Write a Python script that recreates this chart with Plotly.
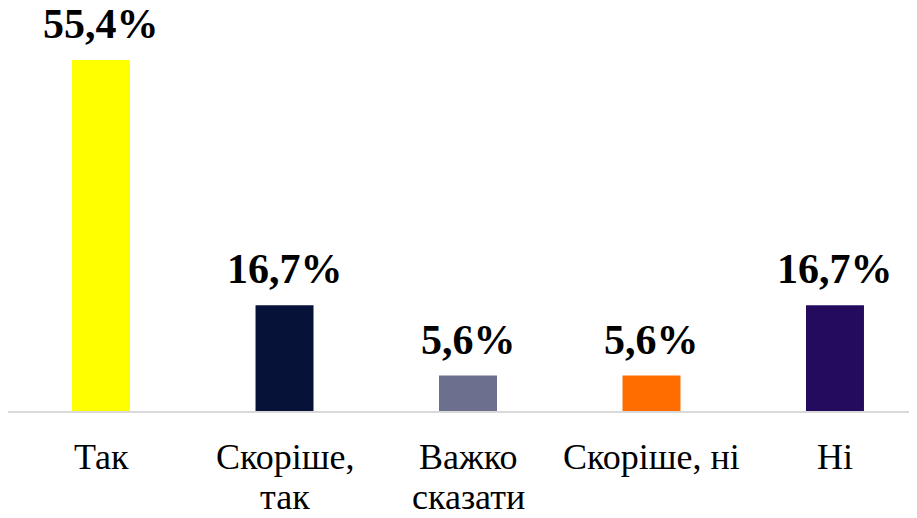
import plotly.graph_objects as go

categories = ["Так", "Скоріше,<br>так", "Важко<br>сказати", "Скоріше, ні", "Ні"]
values = [55.4, 16.7, 5.6, 5.6, 16.7]
labels = ["55,4%", "16,7%", "5,6%", "5,6%", "16,7%"]
colors = ["#ffff00", "#061237", "#6d6f8e", "#ff6d00", "#240b5e"]

x = list(range(len(categories)))
serif = "Liberation Serif"

fig = go.Figure(go.Bar(
    x=x, y=values, width=0.316,
    marker=dict(color=colors, line=dict(width=0)),
))

# value labels sit a bit higher above the bars than plotly's outside text
for xi, v, t in zip(x, values, labels):
    fig.add_annotation(x=xi, y=v, text=t, showarrow=False, yanchor="bottom", yshift=11,
                       font=dict(family=serif, size=42, color="black", weight="bold"))

# category names drawn as annotations so the two lines can sit tighter
for xi, c in zip(x, categories):
    for k, line in enumerate(c.split("<br>")):
        fig.add_annotation(x=xi, y=0, text=line, showarrow=False, yanchor="top",
                           yshift=-24 - 40 * k,
                           font=dict(family=serif, size=36, color="black"))

# page has an 8px body margin, so the figure is a bit smaller than the window
fig.update_layout(
    width=909, height=510,
    margin=dict(l=0, r=0, t=0, b=107, autoexpand=False),
    plot_bgcolor="white", paper_bgcolor="white",
    showlegend=False,
    font=dict(family=serif, color="black"),
)
fig.update_xaxes(
    range=[-0.507, 4.447], showticklabels=False,
    showline=True, linecolor="#d9d9d9", linewidth=2, automargin=False,
    showgrid=False, ticks="",
)
fig.update_yaxes(range=[0, 63.6], visible=False, showgrid=False)

fig.write_html("out.html")
